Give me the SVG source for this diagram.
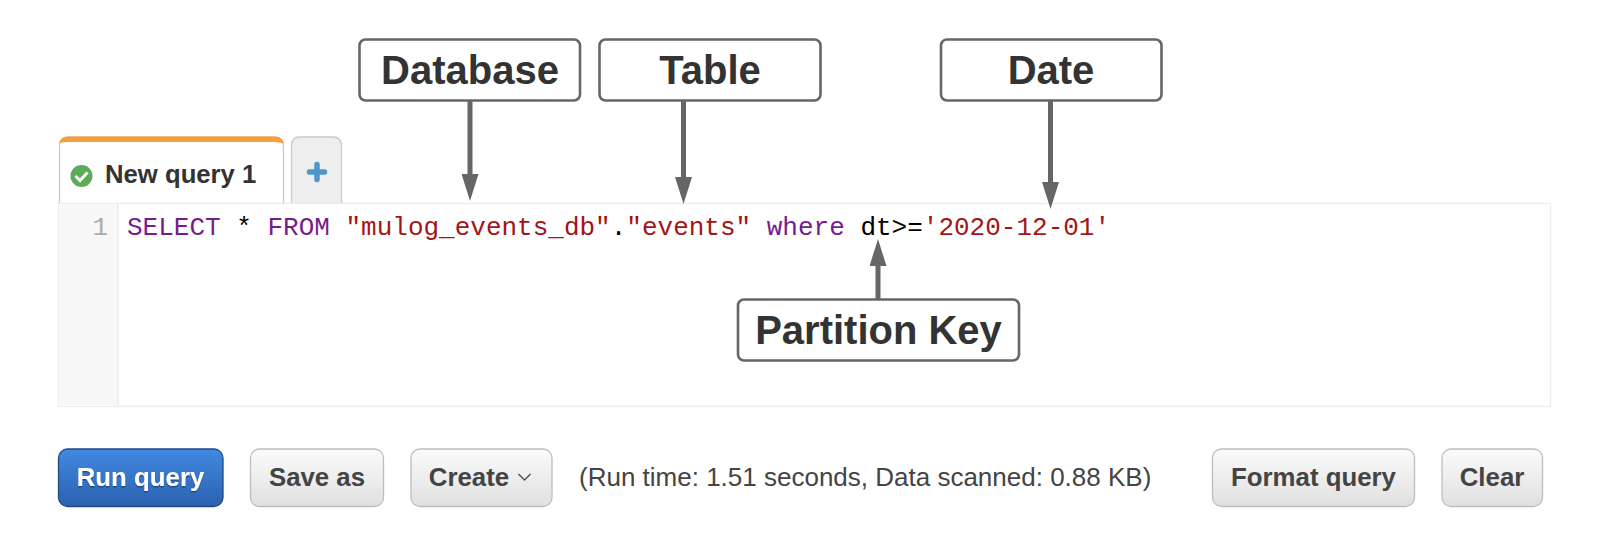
<svg xmlns="http://www.w3.org/2000/svg" width="1600" height="555" viewBox="0 0 1600 555">
<style>
.s{font-family:"Liberation Sans",Arial,sans-serif}
.m{font-family:"Liberation Mono","Courier New",monospace;font-size:26px}
.lb{fill:#fff;stroke:#666;stroke-width:2.6}
.lt{font-family:"Liberation Sans",Arial,sans-serif;font-weight:700;font-size:40px;fill:#333;text-anchor:middle}
.btn{fill:url(#g);stroke:#bdbdbd;stroke-width:1.3}
.bt{font-family:"Liberation Sans",Arial,sans-serif;font-weight:700;font-size:25.8px;fill:#444;text-anchor:middle}
.k{fill:#771b8f}.v{fill:#a31515}.p{fill:#000}
.c{stroke:#666;stroke-width:5;fill:none}
</style>
<defs>
<linearGradient id="g" x1="0" y1="0" x2="0" y2="1"><stop offset="0" stop-color="#fbfbfb"/><stop offset="1" stop-color="#e0e0e0"/></linearGradient>
<linearGradient id="b" x1="0" y1="0" x2="0" y2="1"><stop offset="0" stop-color="#4289e2"/><stop offset="1" stop-color="#2a62ad"/></linearGradient>
<filter id="sh" x="-10%" y="-20%" width="120%" height="150%"><feDropShadow dx="0" dy="1.5" stdDeviation="0.6" flood-color="#1d3f70" flood-opacity="0.8"/></filter>
<marker id="ah" markerUnits="userSpaceOnUse" markerWidth="27" markerHeight="17" refX="0" refY="8.5" viewBox="0 0 27 17" orient="auto"><path d="M0 0L27 8.500L0 17Z" fill="#666"/></marker>
</defs>
<rect width="1600" height="555" fill="#fff"/>
<g id="tab-new-query">
<path d="M59.500 203V146Q59.500 137 69 137H274Q283.500 137 283.500 146V203" fill="#fff" stroke="#ccc" stroke-width="1.300"/>
<path d="M59 143V145Q59 136.500 69 136.500H274Q284 136.500 284 145V143.500Q280 142 274 142H69Q63 142 59 143Z" fill="#f89f3b"/>
<circle cx="81.500" cy="176" r="11" fill="#5cab56"/>
<path d="M75.500 176L80 180.500L87.500 172.500" fill="none" stroke="#fff" stroke-width="3"/>
<text class="s" x="105" y="183" font-size="25.700" font-weight="700" fill="#333">New query 1</text>
</g>
<g id="tab-add">
<path d="M291.500 203V146Q291.500 137 300 137H333Q341.500 137 341.500 146V203" fill="#eee" stroke="#ccc" stroke-width="1.300"/>
<path d="M317 164.500V179.500M309.500 172H324.500" stroke="#4f97c9" stroke-width="5.500" stroke-linecap="round" fill="none"/>
</g>
<g id="editor">
<rect x="58.500" y="203.500" width="1492" height="203" fill="#fff" stroke="#ececec" stroke-width="1.300"/>
<rect x="59.500" y="204.500" width="58" height="201" fill="#f7f7f7"/>
<path d="M118 204V406" stroke="#e6e6e6" stroke-width="1.300"/>
<text class="m" x="108" y="235" text-anchor="end" fill="#aaa">1</text>
<text class="m" x="127" y="235" xml:space="preserve"><tspan class="k">SELECT</tspan><tspan class="p"> * </tspan><tspan class="k">FROM</tspan> <tspan class="v">"mulog_events_db"</tspan><tspan class="p">.</tspan><tspan class="v">"events"</tspan> <tspan class="k">where</tspan> <tspan class="p">dt&gt;=</tspan><tspan class="v">'2020-12-01'</tspan></text>
</g>
<g id="node-database"><rect class="lb" x="359.500" y="39.500" width="220.500" height="61" rx="6"/><text class="lt" x="470" y="84">Database</text></g>
<g id="node-table"><rect class="lb" x="599.500" y="39.500" width="221" height="61" rx="6"/><text class="lt" x="710" y="84">Table</text></g>
<g id="node-date"><rect class="lb" x="941" y="39.500" width="220.500" height="61" rx="6"/><text class="lt" x="1051" y="84">Date</text></g>
<g id="node-partition-key"><rect class="lb" x="738" y="299.500" width="281" height="61" rx="6"/><text class="lt" x="878.500" y="344">Partition Key</text></g>
<g id="connectors">
<path class="c" d="M470 101V174" marker-end="url(#ah)"/>
<path class="c" d="M683.500 101V177" marker-end="url(#ah)"/>
<path class="c" d="M1050.500 101V182" marker-end="url(#ah)"/>
<path class="c" d="M878 299V266" marker-end="url(#ah)"/>
</g>
<g id="btn-run"><rect x="58.500" y="449" width="164.500" height="57.500" rx="9" fill="url(#b)" stroke="#1f4a86" stroke-width="1.300"/><text class="bt" x="140.500" y="486" style="fill:#fff" filter="url(#sh)">Run query</text></g>
<g id="btn-save"><rect class="btn" x="250.500" y="449" width="133" height="57.500" rx="9"/><text class="bt" x="317" y="486">Save as</text></g>
<g id="btn-create"><rect class="btn" x="411" y="449" width="141" height="57.500" rx="9"/><text class="bt" x="469" y="486">Create</text><path d="M518.500 474L524.500 480L530.500 474" fill="none" stroke="#555" stroke-width="1.500"/></g>
<text id="status" class="s" x="579" y="486" font-size="26" fill="#444">(Run time: 1.51 seconds, Data scanned: 0.88 KB)</text>
<g id="btn-format"><rect class="btn" x="1212.500" y="449" width="202" height="57.500" rx="9"/><text class="bt" x="1313.500" y="486">Format query</text></g>
<g id="btn-clear"><rect class="btn" x="1442" y="449" width="100.500" height="57.500" rx="9"/><text class="bt" x="1492" y="486">Clear</text></g>
</svg>
